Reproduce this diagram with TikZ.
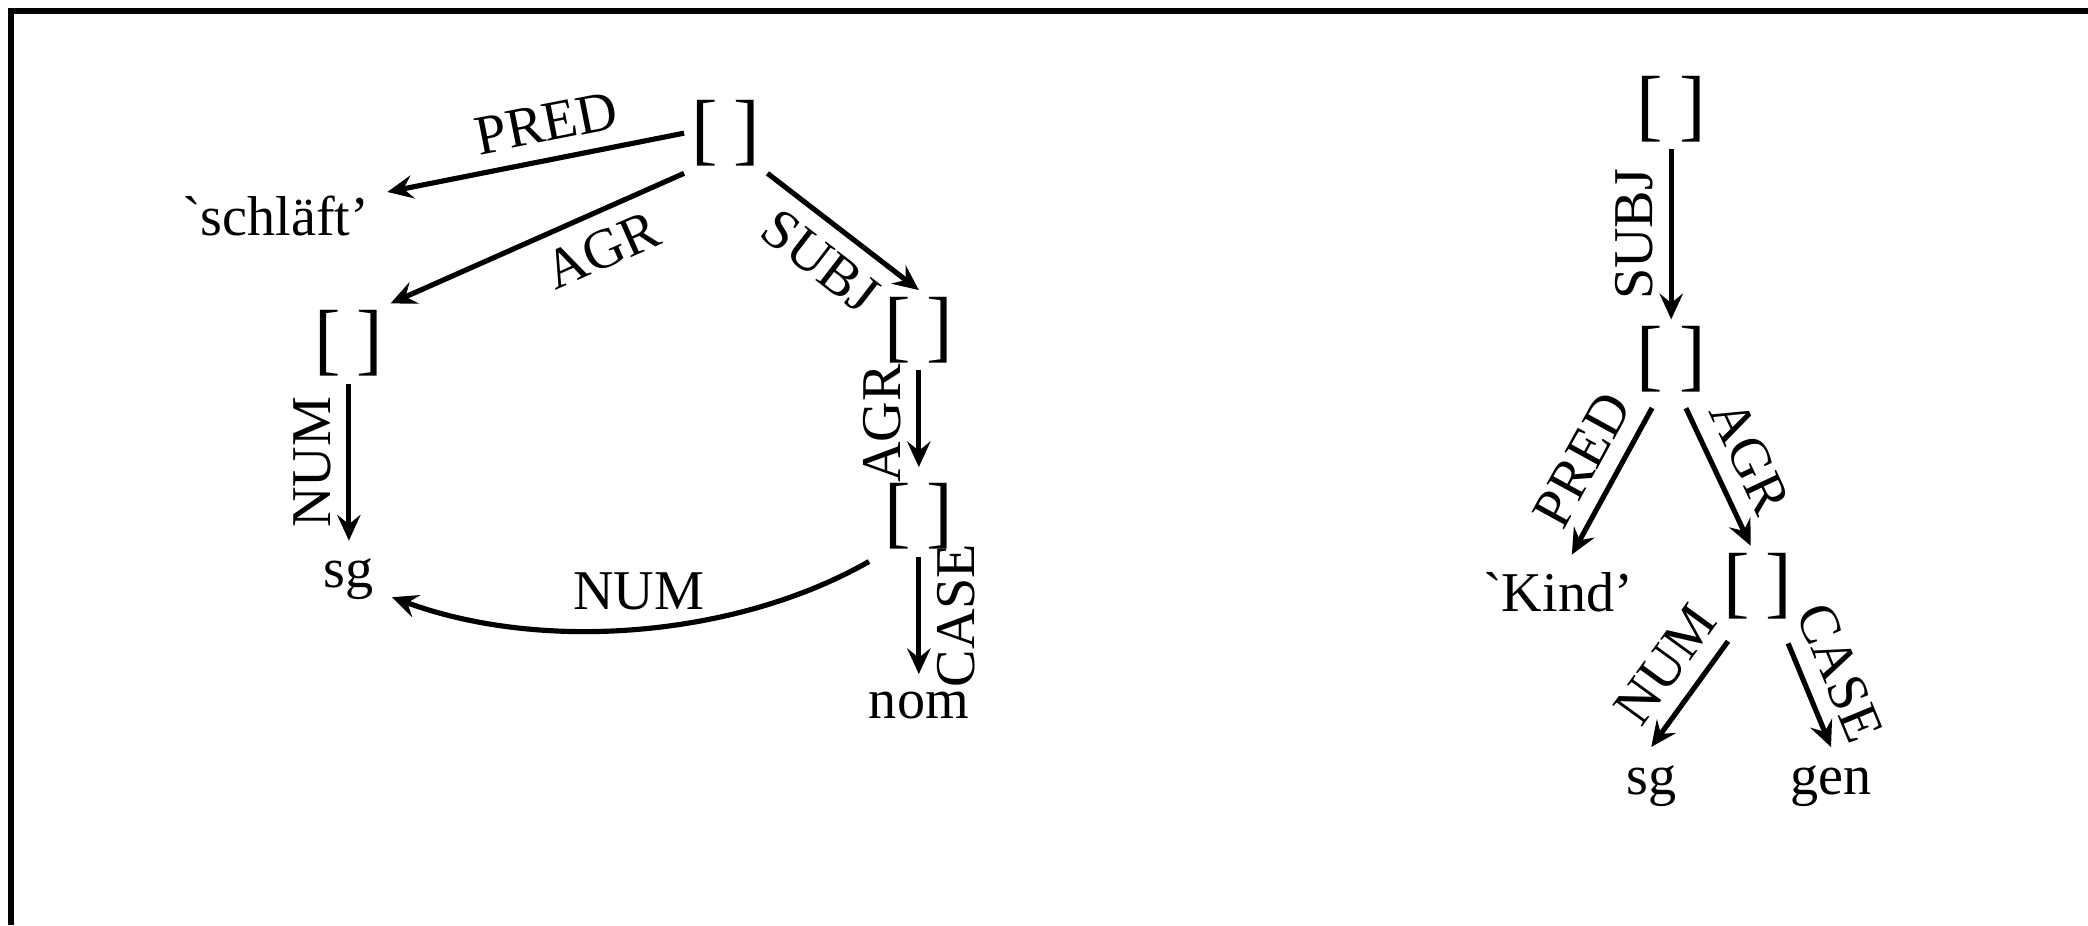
\documentclass[tikz,border=0pt]{standalone}
\usepackage{fontspec}
\setmainfont{Liberation Serif}
\usetikzlibrary{arrows.meta}

\begin{document}
\begin{tikzpicture}[>={Stealth[length=5.5pt,width=5pt,inset=2pt]}, line width=1.1pt,
    font=\fontsize{12pt}{14pt}\selectfont,
    fs/.style={font=\fontsize{17pt}{17pt}\selectfont, inner sep=1pt}]
         \useasboundingbox (0, 0) rectangle (15.68, 6.95);
         \draw [line width=1.1pt] (0.083, 0) -- (0.083, 6.867) -- (15.68, 6.867);
         \node (FT) [fs] at (5.45, 5.95) {[\hspace{0.2em}]};
         \node (PL) at (2.07, 5.33) {\textasciigrave schläft'};
         \node (AL) [fs] at (2.62, 4.37) {[\hspace{0.2em}]};
         \node (SB) [fs] at (6.90, 4.47) {[\hspace{0.2em}]};
         \node (SL) at (2.62, 2.60) {sg};
         \node (AB) [fs] at (6.90, 3.07) {[\hspace{0.2em}]};
         \node (NM) at (6.90, 1.65) {nom};
         \draw [->] (FT.west) -- node [above, sloped, pos=0.44] {PRED} (PL.12);
         \draw [->] (FT.south west) -- node [below, sloped, pos=0.33] {AGR} (AL.north east);
         \draw [->] (FT.south east) -- node [below, sloped] {SUBJ} (SB.north);
         \draw [->] (AL) -- node [above, rotate=90] {NUM} (SL);
         \draw [->, shorten >=2pt] (SB) -- node [above, rotate=90] {AGR} (AB);
         \draw [->] (AB) -- node [below, rotate=90] {CASE} (NM);
         \draw [->, shorten <=2pt] (AB.south west) to [bend left=25, looseness=0.85] node [above] {NUM} (SL);
         \node (RT) [fs] at (12.55, 6.13) {[\hspace{0.2em}]};
         \node (RM) [fs] at (12.55, 4.25) {[\hspace{0.2em}]};
         \node (KD) at (11.70, 2.50) {\textasciigrave Kind'};
         \node (RB) [fs] at (13.20, 2.55) {[\hspace{0.2em}]};
         \node (SR) at (12.40, 1.05) {sg};
         \node (GN) at (13.75, 1.05) {gen};
         \draw [->] (RT) -- node [above, rotate=90] {SUBJ} (RM);
         \draw [->, shorten <=2pt] (RM.-110) -- node [above, sloped] {PRED} (KD.70);
         \draw [->, shorten <=2pt] (RM.-75) -- node [above, sloped] {AGR} (RB.100);
         \draw [->, shorten <=4pt] (RB.-115) -- node [above, sloped] {NUM} (SR.north);
         \draw [->, shorten <=4pt] (RB.-60) -- node [above, sloped] {CASE} (GN.north);
\end{tikzpicture}
\end{document}
